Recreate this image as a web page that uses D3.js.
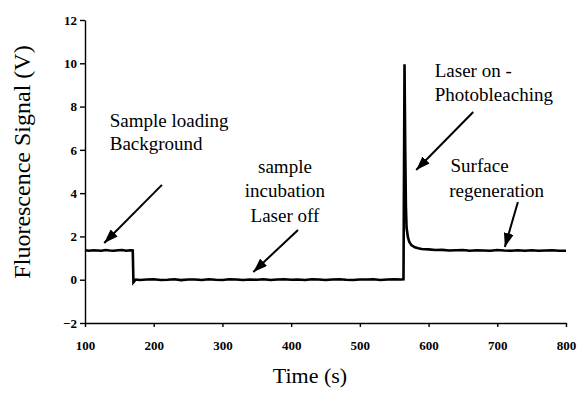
<!DOCTYPE html>
<html>
<head>
<meta charset="utf-8">
<script src="https://cdn.jsdelivr.net/npm/d3@7"></script>
<style>
  html, body { margin: 0; padding: 0; background: #fff; }
  svg { display: block; }
</style>
</head>
<body>
<div id="chart"></div>
<script>
// time (s) of each trace sample
const times = [
  100, 106, 112, 118, 124, 130, 136, 142, 148, 154, 160, 166, 169.5,
  170.5, 174, 180, 190, 200, 210, 220, 230, 240, 250, 260, 270, 280, 290,
  300, 310, 320, 330, 340, 350, 360, 370, 380, 390, 400, 410, 420, 430,
  440, 450, 460, 470, 480, 490, 500, 510, 520, 530, 540, 550, 560, 563.5,
  565, 566, 567, 568, 570, 572, 575, 580, 585, 590, 600, 610, 620, 630,
  640, 650, 660, 670, 680, 690, 700, 710, 720, 730, 740, 750, 760, 770,
  780, 790, 800
];

// fluorescence signal (V)
const signal = [
  1.36, 1.34, 1.36, 1.35, 1.34, 1.37, 1.35, 1.34, 1.36, 1.37, 1.34, 1.36, 1.35,
  -0.12, 0.01, -0.01, 0.01, 0.02, -0.01, 0.00, 0.02, -0.02, 0.01, 0.01, -0.01, 0.02, 0.00,
  -0.01, 0.02, 0.01, -0.01, 0.01, 0.00, 0.02, -0.01, 0.01, 0.02, 0.00, 0.01, -0.01, 0.02,
  0.01, -0.01, 0.01, 0.02, 0.00, -0.01, 0.01, 0.01, 0.02, -0.01, 0.01, 0.02, 0.01, 0.02,
  9.95, 6.2, 3.4, 2.4, 1.95, 1.75, 1.6, 1.5, 1.45, 1.42, 1.40, 1.37, 1.38, 1.35,
  1.36, 1.37, 1.34, 1.36, 1.35, 1.34, 1.37, 1.35, 1.34, 1.36, 1.34, 1.36, 1.34, 1.35,
  1.36, 1.34, 1.34
];

const xTicks = [100, 200, 300, 400, 500, 600, 700, 800];
const yTicks = [-2, 0, 2, 4, 6, 8, 10, 12];

// annotation text, anchored in data units
const labels = [
  { text: "Sample loading", t: 136, v: 7.06, anchor: "start" },
  { text: "Background", t: 136, v: 5.99, anchor: "start" },
  { text: "sample", t: 391, v: 4.93, anchor: "middle" },
  { text: "incubation", t: 391, v: 3.82, anchor: "middle" },
  { text: "Laser off", t: 391, v: 2.67, anchor: "middle" },
  { text: "Laser on -", t: 609, v: 9.37, anchor: "start" },
  { text: "Photobleaching", t: 609, v: 8.26, anchor: "start" },
  { text: "Surface", t: 632, v: 4.98, anchor: "start" },
  { text: "regeneration", t: 630, v: 3.81, anchor: "start" }
];

// arrows: from (t0,v0) to tip (t1,v1)
const arrows = [
  { t0: 212, v0: 4.38, t1: 128, v1: 1.70 },
  { t0: 410, v0: 2.30, t1: 345, v1: 0.36 },
  { t0: 665, v0: 7.75, t1: 582, v1: 5.07 },
  { t0: 730, v0: 3.59, t1: 711, v1: 1.51 }
];

const W = 578, H = 396;
const font = "'Liberation Serif', 'Times New Roman', serif";

const svg = d3.select("#chart").append("svg")
  .attr("width", W).attr("height", H);

const x = d3.scaleLinear().domain([100, 800]).range([85, 566]);
const y = d3.scaleLinear().domain([-2, 12]).range([323, 20]);

// X axis
svg.append("g")
  .attr("transform", `translate(0,${y(-2)})`)
  .call(d3.axisBottom(x).tickValues(xTicks).tickSize(4).tickSizeOuter(0).tickPadding(14))
  .call(g => g.selectAll("path, line").attr("stroke", "#000").attr("stroke-width", 1.4))
  .call(g => g.selectAll("text")
    .attr("font-family", font).attr("font-size", 13).attr("font-weight", "bold").attr("fill", "#000"));

// Y axis
svg.append("g")
  .attr("transform", `translate(${x(100)},0)`)
  .call(d3.axisLeft(y).tickValues(yTicks).tickSize(5).tickSizeOuter(0).tickPadding(3))
  .call(g => g.selectAll("path, line").attr("stroke", "#000").attr("stroke-width", 1.4))
  .call(g => g.selectAll("text")
    .attr("font-family", font).attr("font-size", 13).attr("font-weight", "bold").attr("fill", "#000"));

// trace
const line = d3.line()
  .x((d, i) => x(times[i]))
  .y(d => y(d));

svg.append("path")
  .datum(signal)
  .attr("fill", "none")
  .attr("stroke", "#000")
  .attr("stroke-width", 2.6)
  .attr("stroke-linejoin", "miter")
  .attr("d", line);

// axis titles
svg.append("text")
  .attr("x", 310).attr("y", 383)
  .attr("text-anchor", "middle")
  .attr("font-family", font).attr("font-size", 22)
  .text("Time (s)");

svg.append("text")
  .attr("transform", `translate(30,162) rotate(-90)`)
  .attr("text-anchor", "middle")
  .attr("font-family", font).attr("font-size", 24)
  .text("Fluorescence Signal (V)");

// annotations
svg.append("g").selectAll("text")
  .data(labels)
  .join("text")
  .attr("x", d => x(d.t))
  .attr("y", d => y(d.v))
  .attr("text-anchor", d => d.anchor)
  .attr("font-family", font)
  .attr("font-size", 19)
  .text(d => d.text);

svg.append("defs").append("marker")
  .attr("id", "head")
  .attr("viewBox", "0 0 14 10")
  .attr("refX", 14).attr("refY", 5)
  .attr("markerWidth", 14).attr("markerHeight", 10)
  .attr("markerUnits", "userSpaceOnUse")
  .attr("orient", "auto")
  .append("path")
  .attr("d", "M0,0 L14,5 L0,10 Z")
  .attr("fill", "#000");

svg.append("g").selectAll("line")
  .data(arrows)
  .join("line")
  .attr("x1", d => x(d.t0)).attr("y1", d => y(d.v0))
  .attr("x2", d => x(d.t1)).attr("y2", d => y(d.v1))
  .attr("stroke", "#000")
  .attr("stroke-width", 2)
  .attr("marker-end", "url(#head)");
</script>
</body>
</html>
